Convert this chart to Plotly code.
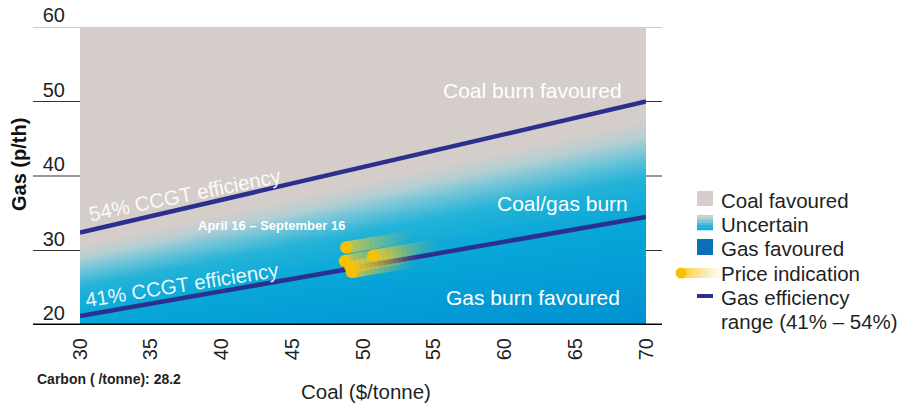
import numpy as np
import plotly.graph_objects as go

# ---------------- data ----------------
coal_range = [30, 70]                 # Coal ($/tonne) at line ends
eff54_gas = [32.4, 50.0]              # 54% CCGT efficiency line (p/th)
eff41_gas = [21.2, 34.5]              # 41% CCGT efficiency line (p/th)
price_coal = [48.8, 48.7, 49.1, 49.2, 50.7]   # price indication points
price_gas = [30.4, 28.6, 27.8, 27.1, 29.3]
x_ticks = [30, 35, 40, 45, 50, 55, 60, 65, 70]
y_ticks = [20, 30, 40, 50, 60]

FONT = "Liberation Sans, Arial, Helvetica, sans-serif"
NAVY = "#2b2f8e"
GRAY = "#d5cdc9"

# plot area in page pixels (body margin removed by post_script)
L, R, T, B = 80, 646, 27, 325
W, H = 908, 406
def px(x): return (x - L) / (R - L)
def py(y): return (B - y) / (B - T)

fig = go.Figure()

# ---------------- background gradient (between the efficiency lines) -------------
xs = np.linspace(30, 70, 81)
ys = np.linspace(20, 60, 161)
X, Y = np.meshgrid(xs, ys)
lo = np.interp(X, coal_range, eff41_gas)
hi = np.interp(X, coal_range, eff54_gas)
Z = np.clip((Y - lo) / (hi - lo), -1, 1)
cscale = [
    [0.0, "#0090d2"],
    [0.5, "#08a7d9"],
    [0.675, "#24b3d8"],
    [0.775, "#70c5d8"],
    [0.85, "#b4cfd3"],
    [0.925, GRAY],
    [1.0, GRAY],
]
fig.add_trace(go.Heatmap(x=xs, y=ys, z=Z, zmin=-1, zmax=1, colorscale=cscale,
                         zsmooth="best", showscale=False, hoverinfo="skip"))

# ---------------- efficiency lines ----------------
for g in (eff54_gas, eff41_gas):
    fig.add_trace(go.Scatter(x=coal_range, y=g, mode="lines",
                             line=dict(color=NAVY, width=4.5),
                             showlegend=False, hoverinfo="skip"))

# ---------------- price indication tails ----------------
N = 14
tail_len = 4.7
slope = 0.32
for k in range(N):
    a = 0.82 * (1 - k / N) ** 1.3
    tx, ty = [], []
    for cx, cy in zip(price_coal, price_gas):
        x0 = cx + tail_len * k / N
        x1 = cx + tail_len * (k + 1) / N
        tx += [x0, x1, None]
        ty += [cy + slope * (x0 - cx), cy + slope * (x1 - cx), None]
    fig.add_trace(go.Scatter(x=tx, y=ty, mode="lines",
                             line=dict(color=f"rgba(240,200,40,{a:.3f})", width=12),
                             showlegend=False, hoverinfo="skip"))
fig.add_trace(go.Scatter(x=price_coal, y=price_gas, mode="markers",
                         marker=dict(color="#f7c100", size=12, line=dict(width=0)),
                         showlegend=False, hoverinfo="skip"))

# ---------------- shapes: extended gridlines, axis line, legend swatches ----------------
shapes = []
for yv in y_ticks:
    if yv == 20:
        continue
    shapes.append(dict(type="line", xref="paper", yref="y", x0=px(33), x1=px(662),
                       y0=yv, y1=yv, layer="below",
                       line=dict(color="#9a9a9a" if yv == 60 else "#333333", width=1.2)))
shapes.append(dict(type="line", xref="paper", yref="y", x0=px(33), x1=px(662),
                   y0=20, y1=20, layer="above", line=dict(color="#000000", width=3)))

# legend swatches
shapes.append(dict(type="rect", xref="paper", yref="paper", x0=px(697), x1=px(713),
                   y0=py(206), y1=py(191), fillcolor=GRAY, line=dict(width=0)))
unc_cols = ["#c9cfd1", "#a9ccd4", "#7ec5d8", "#4ebcd9", "#22b2da", "#10aedb"]
for i, c in enumerate(unc_cols):
    y0 = 215 + i * 15 / len(unc_cols)
    shapes.append(dict(type="rect", xref="paper", yref="paper", x0=px(697), x1=px(713),
                       y0=py(y0 + 15 / len(unc_cols) + 0.3), y1=py(y0), fillcolor=c,
                       line=dict(width=0)))
shapes.append(dict(type="rect", xref="paper", yref="paper", x0=px(697), x1=px(713),
                   y0=py(255), y1=py(239), fillcolor="#0b70b6", line=dict(width=0)))
# price legend tail
M = 10
for k in range(M):
    a = 0.9 * (1 - k / M) ** 1.2
    x0 = 681 + 42 * k / M
    x1 = 681 + 42 * (k + 1) / M
    shapes.append(dict(type="line", xref="paper", yref="paper", x0=px(x0), x1=px(x1),
                       y0=py(273), y1=py(273),
                       line=dict(color=f"rgba(250,200,40,{a:.3f})", width=10)))
shapes.append(dict(type="circle", xref="paper", yref="paper", x0=px(675.5), x1=px(686.5),
                   y0=py(278.5), y1=py(267.5), fillcolor="#f7c100", line=dict(width=0)))
shapes.append(dict(type="line", xref="paper", yref="paper", x0=px(697), x1=px(713),
                   y0=py(296), y1=py(296), line=dict(color=NAVY, width=4)))

# ---------------- annotations ----------------
ann = []
def text(t, x, y, size, color="#1f1f1f", xanchor="left", bold=False, angle=0):
    ann.append(dict(text=f"<b>{t}</b>" if bold else t, xref="paper", yref="paper",
                    x=px(x), y=py(y), xanchor=xanchor, yanchor="middle",
                    showarrow=False, textangle=angle,
                    font=dict(family=FONT, size=size, color=color)))

legend_rows = [("Coal favoured", 199), ("Uncertain", 223), ("Gas favoured", 247),
               ("Price indication", 272), ("Gas efficiency", 296),
               ("range (41% – 54%)", 320)]
for t, yy in legend_rows:
    text(t, 719, yy + 1, 20.5)

text("Coal burn favoured", 624, 90, 21, "white", "right")
text("Coal/gas burn", 630, 203, 21, "white", "right")
text("Gas burn favoured", 622, 297, 21, "white", "right")
text("April 16 – September 16", 271, 225, 13, "white", "center", bold=True)
text("54% CCGT efficiency", 185, 194, 20.5, "rgba(255,255,255,0.92)", "center", angle=-11.5)
text("41% CCGT efficiency", 182, 284, 20.5, "rgba(255,255,255,0.92)", "center", angle=-9)
text("Carbon ( /tonne): 28.2", 35, 379, 14, "#1f1f1f", "left", bold=True)
text("Coal ($/tonne)", 366, 391, 20.5, "#1f1f1f", "center")
text("Gas (p/th)", 19, 165, 20, "#111111", "center", bold=True, angle=-90)

fig.update_layout(
    width=W, height=H,
    margin=dict(l=L, r=W - R, t=T, b=H - B, autoexpand=False),
    paper_bgcolor="white", plot_bgcolor="white",
    showlegend=False,
    shapes=shapes, annotations=ann,
    font=dict(family=FONT, color="#1f1f1f"),
    xaxis=dict(range=[30, 70], tickvals=x_ticks, tickangle=-90, showgrid=False,
               zeroline=False, showline=False, ticks="", ticklabelstandoff=8,
               automargin=False,
               tickfont=dict(family=FONT, size=20, color="#1f1f1f")),
    yaxis=dict(range=[20, 60], tickvals=y_ticks, showgrid=False, zeroline=False,
               showline=False, ticks="", ticklabelshift=-12, ticklabelstandoff=14,
               ticklabeloverflow="allow", automargin=False,
               tickfont=dict(family=FONT, size=20, color="#1f1f1f")),
)

fig.write_html("out.html", config={"displayModeBar": False},
               post_script="document.body.style.margin='0px';")
